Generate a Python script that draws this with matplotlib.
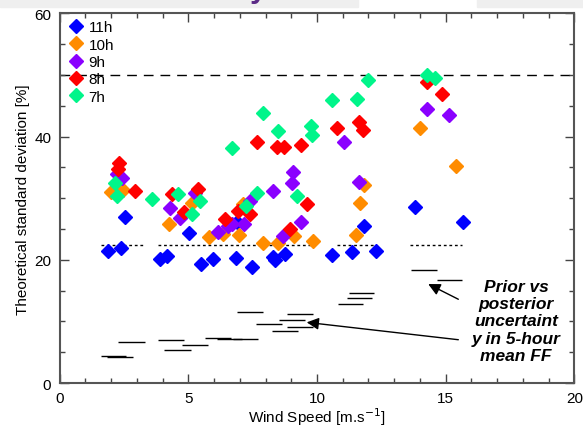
import matplotlib
matplotlib.use("Agg")
import matplotlib.pyplot as plt
from matplotlib.patches import Rectangle
from matplotlib.ticker import MultipleLocator

plt.rcParams['font.family'] = ['Liberation Sans', 'DejaVu Sans']

# puntos por hora (velocidad del viento, desviacion teorica %)
x_11h = [1.87, 2.39, 2.54, 3.90, 4.16, 5.04, 5.49, 5.97, 6.84, 6.88, 7.49, 8.30, 8.37, 8.77,
         10.57, 11.37, 11.84, 12.28, 13.81, 15.66]
y_11h = [21.5, 22.0, 26.9, 20.1, 20.6, 24.3, 19.4, 20.2, 20.3, 26.2, 18.8, 20.4, 19.9, 20.9,
         20.8, 21.3, 25.5, 21.4, 28.6, 26.2]

x_10h = [1.99, 2.48, 4.25, 5.13, 5.82, 6.33, 6.97, 7.13, 7.91, 8.50, 9.11, 9.83, 11.50, 11.67,
         11.84, 14.00, 15.39]
y_10h = [31.0, 31.4, 25.8, 29.2, 23.7, 24.2, 24.0, 29.1, 22.8, 22.8, 23.8, 23.1, 24.1, 29.2,
         32.1, 41.4, 35.2]

x_9h = [2.22, 2.41, 4.29, 4.68, 5.26, 6.17, 6.55, 6.69, 7.17, 7.40, 8.30, 8.69, 9.01, 9.08,
        9.36, 11.06, 11.64, 14.26, 15.13]
y_9h = [34.0, 33.3, 28.4, 26.8, 30.8, 24.6, 25.5, 25.9, 25.9, 29.6, 31.1, 23.8, 32.5, 34.3,
        26.1, 39.2, 32.6, 44.5, 43.5]

x_8h = [2.32, 2.26, 2.93, 4.36, 4.85, 5.39, 6.43, 6.92, 7.40, 7.66, 8.43, 8.72, 8.95, 9.37,
        9.60, 10.77, 11.64, 11.80, 14.29, 14.84]
y_8h = [35.7, 34.7, 31.2, 30.7, 27.7, 31.5, 26.7, 28.0, 27.4, 39.2, 38.4, 38.3, 25.0, 38.6,
        29.1, 41.4, 42.3, 41.1, 48.8, 46.9]

x_7h = [2.15, 2.22, 3.58, 4.61, 5.13, 5.45, 6.71, 7.23, 7.68, 7.92, 8.47, 9.24, 9.75, 9.79,
        10.60, 11.54, 11.97, 14.29, 14.58]
y_7h = [32.4, 30.4, 29.8, 30.7, 27.5, 29.6, 38.1, 28.8, 30.8, 43.8, 41.0, 30.4, 41.8, 40.3,
        46.0, 46.1, 49.2, 50.0, 49.6]

series = [
    ("11h", x_11h, y_11h, "#0000ff"),
    ("10h", x_10h, y_10h, "#ff8c00"),
    ("9h", x_9h, y_9h, "#8a00ff"),
    ("8h", x_8h, y_8h, "#ff0000"),
    ("7h", x_7h, y_7h, "#00f58a"),
]

# incertidumbre posterior en media de 5 horas (segmentos horizontales)
seg_x0 = [1.62, 1.85, 2.27, 3.83, 4.07, 4.77, 5.65, 6.10, 6.72, 6.88, 7.62, 8.24, 8.52, 8.82,
          8.82, 10.80, 11.15, 11.24, 13.65, 14.65]
seg_x1 = [2.59, 2.86, 3.32, 4.84, 5.09, 5.78, 6.65, 7.10, 7.72, 7.89, 8.63, 9.25, 9.53, 9.83,
          9.83, 11.80, 12.13, 12.21, 14.65, 15.62]
seg_y = [4.4, 4.2, 6.6, 7.0, 5.3, 6.1, 7.3, 7.2, 7.2, 11.6, 9.6, 8.5, 10.2, 11.2,
         9.1, 12.8, 13.8, 14.6, 18.4, 16.7]

# incertidumbre prior (linea punteada)
prior_y = 22.4
prior_x0 = [1.62, 3.83, 10.77, 13.61]
prior_x1 = [3.25, 9.79, 12.25, 15.62]

limite_y = 50

fig = plt.figure(figsize=(5.83, 4.31), dpi=100)
ax = fig.add_axes([0.1022, 0.109, 0.8831, 0.8574])

ax.axhline(limite_y, color="k", lw=1, ls=(0, (7, 5)), zorder=1)
ax.hlines([prior_y] * len(prior_x0), prior_x0, prior_x1, colors="k", lw=1,
          linestyles=(0, (2, 2)), zorder=1)
ax.hlines(seg_y, seg_x0, seg_x1, colors="k", lw=1, zorder=1)

for nombre, xs, ys, col in series:
    ax.plot(xs, ys, ls="none", marker="D", ms=6.8, color=col, mec=col, label=nombre, zorder=3)

ax.set_xlim(0, 20)
ax.set_ylim(0, 60)
ax.xaxis.set_major_locator(MultipleLocator(5))
ax.xaxis.set_minor_locator(MultipleLocator(1))
ax.yaxis.set_major_locator(MultipleLocator(20))
ax.yaxis.set_minor_locator(MultipleLocator(5))
ax.tick_params(which="both", direction="in", top=True, right=True, color="#444444",
               labelsize=11, pad=6)
ax.tick_params(which="major", length=6.5, width=1)
ax.tick_params(which="minor", length=3.6, width=1)
for sp in ax.spines.values():
    sp.set_color("#555555")
    sp.set_linewidth(1.5)

ax.set_xlabel("Wind Speed [m.s$^{-1}$]", fontsize=11, labelpad=0)
ax.set_ylabel("Theoretical standard deviation [%]", fontsize=11, labelpad=3)

leg = ax.legend(loc="upper left", frameon=False, fontsize=11, handletextpad=0.25,
                labelspacing=0.22, borderaxespad=0.25, handlelength=1.2,
                borderpad=0.2, markerscale=1.0)

ax.text(17.73, 10.1, "Prior vs\nposterior\nuncertaint\ny in 5-hour\nmean FF",
        ha="center", va="center", fontsize=12.5, fontweight="bold", fontstyle="italic",
        linespacing=1.2)
flecha = dict(arrowstyle="-|>", color="k", lw=1, mutation_scale=18, shrinkA=0, shrinkB=0)
ax.annotate("", xy=(14.32, 16.07), xytext=(15.49, 13.6), arrowprops=flecha)
ax.annotate("", xy=(9.60, 9.85), xytext=(15.49, 7.03), arrowprops=flecha)

# restos de la diapositiva
fig.patches.append(Rectangle((0, 1 - 8 / 431), 358 / 583, 8 / 431, transform=fig.transFigure,
                             color="#efefef", zorder=0))
fig.patches.append(Rectangle((477 / 583, 1 - 8 / 431), 106 / 583, 8 / 431,
                             transform=fig.transFigure, color="#efefef", zorder=0))
fig.text(250 / 583, 1 + 3 / 431, "y", color="#5b2a86", fontsize=22, fontweight="bold",
         ha="left", va="baseline")

fig.savefig("out.png", dpi=100)
